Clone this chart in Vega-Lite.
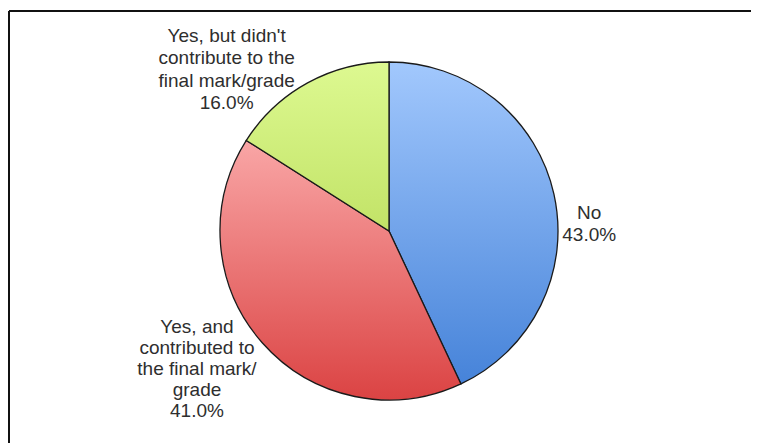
{
  "$schema": "https://vega.github.io/schema/vega-lite/v6.json",
  "width": 748,
  "height": 432,
  "autosize": {"type": "none"},
  "padding": {"left": 9, "top": 11, "right": 0, "bottom": 0},
  "background": "white",
  "view": {"stroke": "#111111", "strokeWidth": 2, "strokeCap": "butt", "strokeJoin": "bevel", "strokeDash": [742, 1186, 432, 0]},
  "config": {
    "text": {"font": "Liberation Sans"}
  },
  "data": {
    "values": [
      {"answer": "No", "label": "No", "value": 43, "rank": 1},
      {"answer": "Yes, and contributed", "label": "Yes, and\ncontributed to\nthe final mark/\ngrade", "value": 41, "rank": 2},
      {"answer": "Yes, but didn't", "label": "Yes, but didn't\ncontribute to the\nfinal mark/grade", "value": 16, "rank": 3}
    ]
  },
  "transform": [
    {"stack": "value", "groupby": [], "sort": [{"field": "rank", "order": "ascending"}], "as": ["t0", "t1"]},
    {"calculate": "(datum.t0 + datum.t1) / 2", "as": "tmid"},
    {"calculate": "datum.label + '\\n' + format(datum.value / 100, '.1%')", "as": "text"}
  ],
  "layer": [
    {
      "transform": [{"filter": "datum.answer === 'No'"}],
      "mark": {
        "type": "arc", "radius": 169, "stroke": "#1a1a1a", "strokeWidth": 1.3,
        "x": {"expr": "width / 2 + 6"}, "y": {"expr": "height / 2 + 4"},
        "fill": {"gradient": "linear", "x1": 0, "y1": 0, "x2": 0, "y2": 1,
          "stops": [{"offset": 0, "color": "#a2c8fd"}, {"offset": 1, "color": "#4683d9"}]}
      },
      "encoding": {
        "theta": {"field": "t0", "type": "quantitative", "scale": {"domain": [0, 100]}},
        "theta2": {"field": "t1"}
      }
    },
    {
      "transform": [{"filter": "datum.answer === 'Yes, and contributed'"}],
      "mark": {
        "type": "arc", "radius": 169, "stroke": "#1a1a1a", "strokeWidth": 1.3,
        "x": {"expr": "width / 2 + 6"}, "y": {"expr": "height / 2 + 4"},
        "fill": {"gradient": "linear", "x1": 0, "y1": 0, "x2": 0, "y2": 1,
          "stops": [{"offset": 0, "color": "#f9a6a6"}, {"offset": 1, "color": "#db4343"}]}
      },
      "encoding": {
        "theta": {"field": "t0", "type": "quantitative", "scale": {"domain": [0, 100]}},
        "theta2": {"field": "t1"}
      }
    },
    {
      "transform": [{"filter": "datum.answer === \"Yes, but didn't\""}],
      "mark": {
        "type": "arc", "radius": 169, "stroke": "#1a1a1a", "strokeWidth": 1.3,
        "x": {"expr": "width / 2 + 6"}, "y": {"expr": "height / 2 + 4"},
        "fill": {"gradient": "linear", "x1": 0, "y1": 0, "x2": 0, "y2": 1,
          "stops": [{"offset": 0, "color": "#ddf991"}, {"offset": 1, "color": "#c2e367"}]}
      },
      "encoding": {
        "theta": {"field": "t0", "type": "quantitative", "scale": {"domain": [0, 100]}},
        "theta2": {"field": "t1"}
      }
    },
    {
      "transform": [{"filter": "datum.answer === 'No'"}],
      "mark": {"type": "text", "radius": 200, "dx": 5, "dy": 26, "align": "center", "baseline": "middle",
        "x": {"expr": "width / 2 + 6"}, "y": {"expr": "height / 2 + 4"},
        "fontSize": 19, "lineHeight": 22, "lineBreak": "\n", "fill": "#2e2e2e"},
      "encoding": {
        "theta": {"field": "tmid", "type": "quantitative", "scale": {"domain": [0, 100]}},
        "text": {"field": "text"}
      }
    },
    {
      "transform": [{"filter": "datum.answer === 'Yes, and contributed'"}],
      "mark": {"type": "text", "radius": 200, "dx": -42, "dy": -36, "align": "center", "baseline": "middle",
        "x": {"expr": "width / 2 + 6"}, "y": {"expr": "height / 2 + 4"},
        "fontSize": 19, "lineHeight": 21, "lineBreak": "\n", "fill": "#2e2e2e"},
      "encoding": {
        "theta": {"field": "tmid", "type": "quantitative", "scale": {"domain": [0, 100]}},
        "text": {"field": "text"}
      }
    },
    {
      "transform": [{"filter": "datum.answer === \"Yes, but didn't\""}],
      "mark": {"type": "text", "radius": 200, "dx": -66, "dy": -20, "align": "center", "baseline": "middle",
        "x": {"expr": "width / 2 + 6"}, "y": {"expr": "height / 2 + 4"},
        "fontSize": 19, "lineHeight": 22.5, "lineBreak": "\n", "fill": "#2e2e2e"},
      "encoding": {
        "theta": {"field": "tmid", "type": "quantitative", "scale": {"domain": [0, 100]}},
        "text": {"field": "text"}
      }
    }
  ]
}
